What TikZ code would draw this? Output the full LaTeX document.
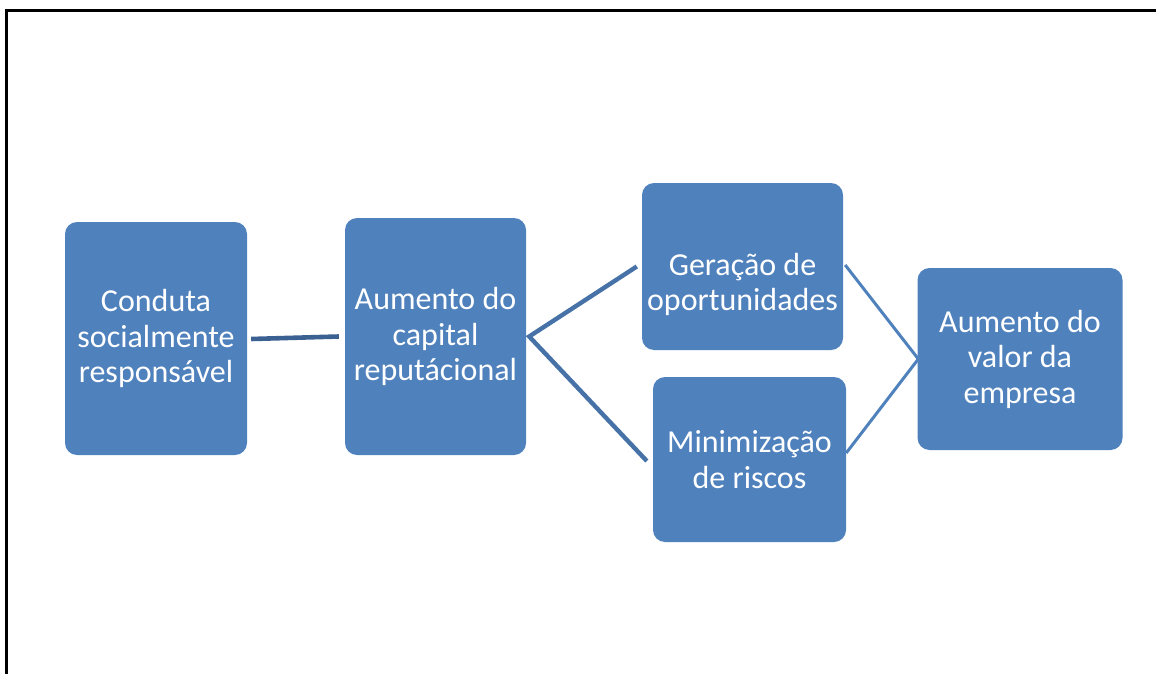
\documentclass[tikz,border=0pt]{standalone}
\usepackage{fontspec}
\setmainfont{Carlito}
\definecolor{boxblue}{HTML}{4F81BD}
\definecolor{linedark}{HTML}{3B6092}
\definecolor{linemid}{HTML}{4672A8}
\begin{document}
\begin{tikzpicture}[x=1pt,y=-1pt,
  box/.style={draw=none, fill=boxblue, rounded corners=12pt, inner sep=0pt},
  lbl/.style={text=white, align=center, inner sep=0pt, font=\fontsize{32}{35.5}\selectfont},
  connA/.style={draw=linedark, line width=4.6pt},
  connB/.style={draw=linemid, line width=4.4pt},
  connC/.style={draw=boxblue, line width=3pt},
  frame/.style={draw=black, line width=3pt}]
\useasboundingbox (0,0) rectangle (1156,674);
\coordinate (fb) at (6,680);
\coordinate (fc) at (6,10.3);
\coordinate (fr) at (1160,10.3);
\draw[frame] (fb) -- (fc) -- (fr);

\node[box, minimum width=182pt, minimum height=233pt] (b1) at (156,338.5) {};
\node[box, minimum width=181pt, minimum height=237pt] (b2) at (435.5,336.5) {};
\node[box, minimum width=201pt, minimum height=167pt] (b3) at (742.5,266.5) {};
\node[box, minimum width=193pt, minimum height=165pt] (b4) at (749.5,459.5) {};
\node[box, minimum width=205pt, minimum height=182pt] (b5) at (1020,359) {};

\node[lbl] (t1) at (b1) {Conduta\\socialmente\\responsável};
\node[lbl] (t2) at (b2) {Aumento do\\capital\\reputácional};
\node[lbl, yshift=-18pt] (t3) at (b3) {Geração de\\oportunidades};
\node[lbl] (t4) at (b4) {Minimização\\de riscos};
\node[lbl] (t5) at (b5) {Aumento do\\valor da\\empresa};

\draw[connA] ([xshift=4pt,yshift=-0.5pt]b1.east) -- ([xshift=-6pt]b2.west);
\draw[connB, line join=miter] ([xshift=-5pt]b3.west) -- ([xshift=3pt]b2.east) -- ([xshift=-6pt,yshift=-1.5pt]b4.west);
\draw[connC] ([xshift=2pt,yshift=1.5pt]b3.east) -- ([xshift=1pt]b5.west) -- ([yshift=6.5pt]b4.east);
\end{tikzpicture}
\end{document}
